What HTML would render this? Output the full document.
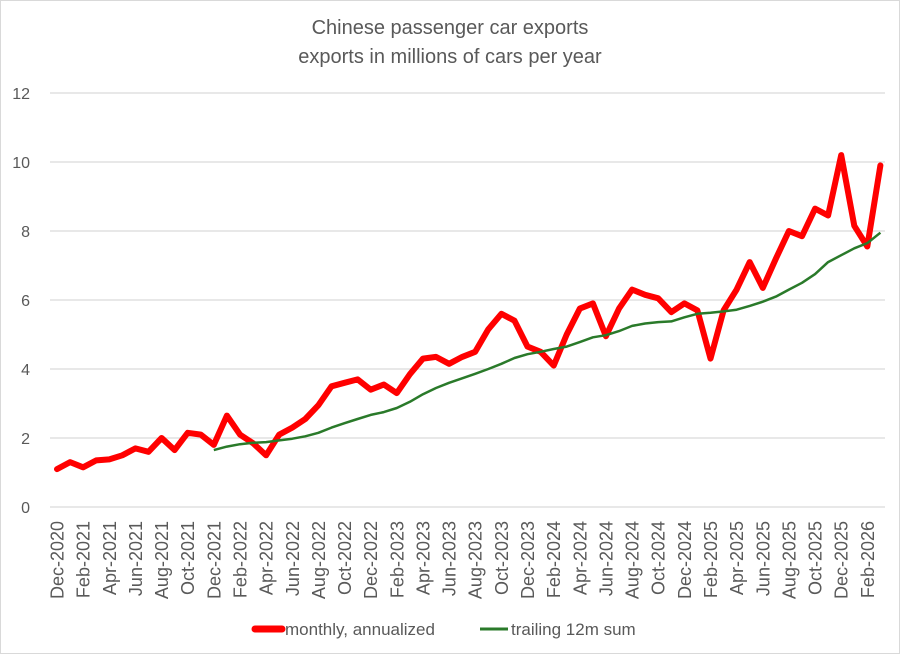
<!DOCTYPE html>
<html><head><meta charset="utf-8"><style>
html,body{margin:0;padding:0;background:#fff;}
svg{display:block;font-family:"Liberation Sans",sans-serif;}
</style></head><body>
<svg id="c" width="900" height="654" viewBox="0 0 900 654" xmlns="http://www.w3.org/2000/svg">
<rect x="0.5" y="0.5" width="899" height="653" fill="#fff" stroke="#d9d9d9"/>
<text x="450" y="34" font-size="20" fill="#595959" text-anchor="middle">Chinese passenger car exports</text>
<text x="450" y="63" font-size="20" fill="#595959" text-anchor="middle">exports in millions of cars per year</text>
<g id="g"></g>
<g font-size="17" fill="#595959">
<line x1="255" y1="629" x2="282" y2="629" stroke="#ff0000" stroke-width="7" stroke-linecap="round"/>
<text x="285" y="635">monthly, annualized</text>
<line x1="480" y1="629" x2="508" y2="629" stroke="#2a7a2a" stroke-width="3"/>
<text x="511" y="635">trailing 12m sum</text>
</g>
</svg>
<script>
var g=document.getElementById('g'),s='';
function Y(v){return 507-v*34.5;}
function X(i){return 57+i*13.07;}
for(var k=0;k<=12;k+=2){s+='<line x1="50" x2="885" y1="'+Y(k)+'" y2="'+Y(k)+'" stroke="#d9d9d9" stroke-width="1.3"/>';
s+='<text x="30" y="'+(Y(k)+6)+'" font-size="16" fill="#595959" text-anchor="end">'+k+'</text>';}
var m=['Jan','Feb','Mar','Apr','May','Jun','Jul','Aug','Sep','Oct','Nov','Dec'];
for(var i=0;i<=62;i+=2){var mi=(11+i)%12,yr=2020+Math.floor((11+i)/12);var x=X(i)+6.5;
s+='<text transform="translate('+x+',521) rotate(-90)" font-size="18" fill="#595959" text-anchor="end">'+m[mi]+'-'+yr+'</text>';}
var r=[1.1,1.3,1.15,1.35,1.38,1.5,1.7,1.6,2.0,1.65,2.15,2.1,1.8,2.65,2.1,1.85,1.5,2.1,2.3,2.55,2.95,3.5,3.6,3.7,3.4,3.55,3.3,3.85,4.3,4.35,4.15,4.35,4.5,5.15,5.6,5.4,4.65,4.5,4.1,5.0,5.75,5.9,4.95,5.75,6.3,6.15,6.05,5.65,5.9,5.7,4.3,5.7,6.3,7.1,6.35,7.2,8.0,7.85,8.65,8.45,10.2,8.15,7.55,9.9];
var gr=[1.65,1.75,1.82,1.86,1.88,1.93,1.98,2.05,2.15,2.3,2.43,2.55,2.67,2.75,2.87,3.05,3.27,3.45,3.6,3.73,3.86,4.0,4.15,4.32,4.43,4.5,4.58,4.65,4.78,4.92,4.98,5.1,5.25,5.32,5.36,5.38,5.5,5.6,5.63,5.67,5.72,5.83,5.95,6.1,6.3,6.5,6.75,7.1,7.3,7.5,7.65,7.95];
var p=r.map(function(v,i){return X(i).toFixed(1)+','+Y(v).toFixed(1)}).join(' ');
var q=gr.map(function(v,i){return X(i+12).toFixed(1)+','+Y(v).toFixed(1)}).join(' ');
s+='<polyline points="'+p+'" fill="none" stroke="#ff0000" stroke-width="6" stroke-linejoin="round" stroke-linecap="round"/>';
s+='<polyline points="'+q+'" fill="none" stroke="#2a7a2a" stroke-width="2.5" stroke-linejoin="round"/>';
g.innerHTML=s;
</script>
</body></html>
